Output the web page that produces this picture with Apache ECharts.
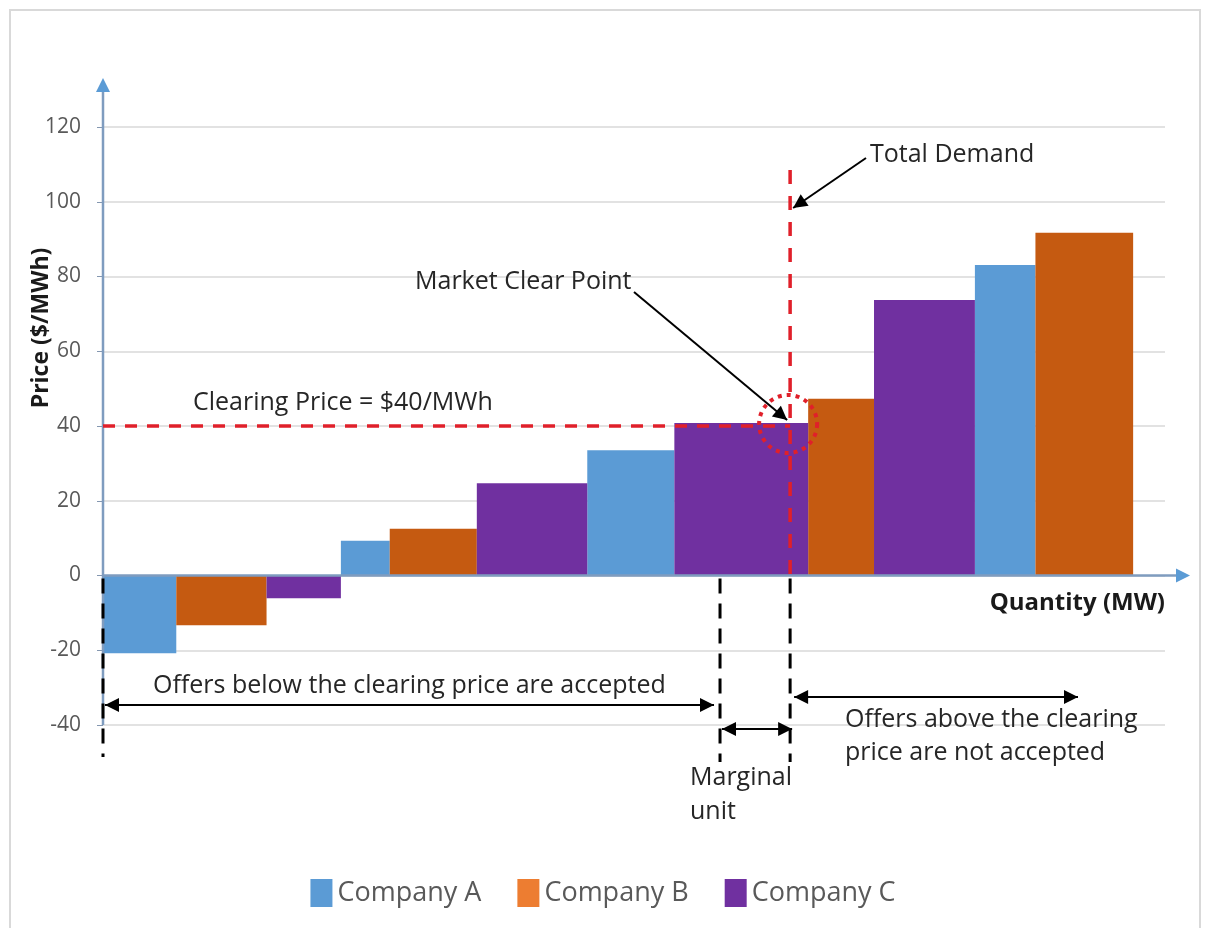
<!DOCTYPE html>
<html>
<head>
<meta charset="utf-8">
<title>Market clearing price</title>
<script src="https://cdn.jsdelivr.net/npm/echarts@6/dist/echarts.min.js"></script>
<style>
  html, body { margin: 0; padding: 0; background: #fff; }
  #chart { width: 1206px; height: 928px; }
</style>
</head>
<body>
<div id="chart"></div>
<script>
// companies and their colours (bars use a darker orange than the legend swatch)
var companies = ['Company A', 'Company B', 'Company C']
var barColors = ['#5b9bd5', '#c55a11', '#7030a0']
var legendColors = ['#5b9bd5', '#ed7d31', '#7030a0']

// offers sorted by price (merit order)
var offerCompany = ['Company A', 'Company B', 'Company C', 'Company A', 'Company B', 'Company C',
  'Company A', 'Company C', 'Company B', 'Company C', 'Company A', 'Company B']
var offerQuantity = [6.9, 8.5, 7.0, 4.6, 8.2, 10.4, 8.2, 12.6, 6.2, 9.5, 5.7, 9.2] // MW
var offerPrice = [-20.8, -13.3, -6.1, 9.3, 12.5, 24.7, 33.5, 40.8, 47.3, 73.7, 83.1, 91.7] // $/MWh

var yTicks = [-40, -20, 0, 20, 40, 60, 80, 100, 120]
var clearingPrice = 40
var totalDemand = 64.7
var marginalStart = 58.1

var FONT = 'Open Sans'
var NOTE = 25

// cumulative start/end of each offer on the quantity axis
var offers = []
var acc = 0
for (var i = 0; i < offerQuantity.length; i++) {
  offers.push({ company: offerCompany[i], start: acc, end: acc + offerQuantity[i], price: offerPrice[i] })
  acc += offerQuantity[i]
}

function renderBar(params, api) {
  var p0 = api.coord([api.value(0), 0])
  var p1 = api.coord([api.value(1), api.value(2)])
  return {
    type: 'rect',
    shape: {
      x: p0[0],
      y: Math.min(p0[1], p1[1]),
      width: p1[0] - p0[0],
      height: Math.abs(p1[1] - p0[1])
    },
    style: { fill: api.visual('color') }
  }
}

var series = companies.map(function(name, idx) {
  return {
    name: name,
    type: 'custom',
    renderItem: renderBar,
    encode: { x: [0, 1], y: 2 },
    itemStyle: { color: barColors[idx] },
    data: offers.filter(function(o) { return o.company === name })
      .map(function(o) { return [o.start, o.end, o.price] })
  }
})

var chart = echarts.init(document.getElementById('chart'))

chart.setOption({
  animation: false,
  backgroundColor: '#fff',
  grid: { left: 103, right: 41, top: 127, bottom: 203, containLabel: false },
  legend: {
    data: companies.map(function(c, i) { return { name: c, itemStyle: { color: legendColors[i] } } }),
    left: 'center',
    top: 874,
    icon: 'rect',
    itemWidth: 22,
    itemHeight: 28,
    itemGap: 36,
    textStyle: { fontFamily: FONT, fontSize: 27, color: '#595959' }
  },
  xAxis: {
    type: 'value',
    min: 0,
    max: 100,
    axisLine: { show: false },
    axisTick: { show: false },
    axisLabel: { show: false },
    splitLine: { show: false }
  },
  yAxis: {
    type: 'value',
    min: yTicks[0],
    max: yTicks[yTicks.length - 1],
    interval: yTicks[1] - yTicks[0],
    axisLine: { show: false },
    axisTick: { show: true, length: 6, lineStyle: { color: '#8497b0' } },
    axisLabel: { fontFamily: FONT, fontSize: 21, color: '#595959', margin: 22 },
    splitLine: { lineStyle: { color: '#d9d9d9', width: 1.5 } }
  },
  series: series
})

function px(x, y) { return chart.convertToPixel({ gridIndex: 0 }, [x, y]) }

function head(tx, ty, fx, fy, color) {
  var a = Math.atan2(ty - fy, tx - fx)
  var L = 14, W = 7
  var bx = tx - L * Math.cos(a), by = ty - L * Math.sin(a)
  return {
    type: 'polygon',
    shape: { points: [[tx, ty], [bx - W * Math.sin(a), by + W * Math.cos(a)], [bx + W * Math.sin(a), by - W * Math.cos(a)]] },
    style: { fill: color || '#000' },
    z: 110
  }
}

function arrow(x1, y1, x2, y2, both) {
  var els = [{
    type: 'line',
    shape: { x1: x1, y1: y1, x2: x2, y2: y2 },
    style: { stroke: '#000', lineWidth: 2 },
    z: 110
  }]
  els.push(head(x2, y2, x1, y1))
  if (both) els.push(head(x1, y1, x2, y2))
  return els
}

function label(text, x, y, opts) {
  opts = opts || {}
  return {
    type: 'text',
    rotation: opts.rotation || 0,
    x: x,
    y: y,
    style: {
      text: text,
      fill: opts.color || '#262626',
      fontFamily: FONT,
      fontSize: opts.size || NOTE,
      fontWeight: opts.bold ? 'bold' : 'normal',
      align: opts.align || 'left',
      verticalAlign: 'middle'
    },
    z: 120
  }
}

function dashed(x1, y1, x2, y2, color, width, dash) {
  return {
    type: 'line',
    shape: { x1: x1, y1: y1, x2: x2, y2: y2 },
    style: { stroke: color, lineWidth: width, lineDash: dash },
    z: 105
  }
}

var origin = px(0, 0)
var yBottom = px(0, yTicks[0])
var yTop = px(0, yTicks[yTicks.length - 1])
var xEnd = px(100, 0)
var clear = px(totalDemand, clearingPrice)
var marg = px(marginalStart, 0)
var demandTop = px(totalDemand, 108.5)
var dashBottom = yBottom[1] + 32
var axisColor = '#7f9cbf'
var arrowBlue = '#5b9bd5'

var g = []
// chart border
g.push({ type: 'rect', shape: { x: 10, y: 10, width: 1190, height: 940 }, style: { fill: 'none', stroke: '#d9d9d9', lineWidth: 2 }, z: 1 })

// axes with arrow heads
g.push({ type: 'line', shape: { x1: origin[0], y1: yBottom[1], x2: origin[0], y2: yTop[1] - 40 }, style: { stroke: axisColor, lineWidth: 2.5 }, z: 100 })
g.push(head(origin[0], yTop[1] - 49, origin[0], yTop[1], arrowBlue))
g.push({ type: 'line', shape: { x1: origin[0], y1: origin[1], x2: xEnd[0] + 16, y2: origin[1] }, style: { stroke: axisColor, lineWidth: 2.5 }, z: 100 })
g.push(head(xEnd[0] + 25, origin[1], xEnd[0], origin[1], arrowBlue))

// axis titles
g.push(label('Price ($/MWh)', 41, 328, { bold: true, rotation: Math.PI / 2, align: 'center', size: 23, color: '#1a1a1a' }))
g.push(label('Quantity (MW)', xEnd[0], origin[1] + 28, { bold: true, align: 'right', size: 24, color: '#1a1a1a' }))

// clearing price and total demand (red)
g.push(dashed(origin[0], clear[1], clear[0], clear[1], '#e0202a', 3.5, [12, 10]))
g.push(dashed(clear[0], demandTop[1], clear[0], origin[1], '#e0202a', 3.5, [14, 12]))
g.push({ type: 'circle', shape: { cx: clear[0] - 2, cy: clear[1] - 2, r: 29 }, style: { fill: 'none', stroke: '#e0202a', lineWidth: 4, lineDash: [4, 5] }, z: 106 })

// black dashed boundaries
g.push(dashed(origin[0], origin[1] + 3, origin[0], dashBottom, '#000', 3, [15, 10]))
g.push(dashed(marg[0], origin[1] + 3, marg[0], dashBottom + 5, '#000', 3, [15, 10]))
g.push(dashed(clear[0], origin[1] + 3, clear[0], dashBottom + 5, '#000', 3, [15, 10]))

// annotations
g.push(label('Total Demand', 870, 155))
g = g.concat(arrow(866, 158, clear[0] + 3, demandTop[1] + 38))
g.push(label('Market Clear Point', 415, 282))
g = g.concat(arrow(634, 292, clear[0] - 3, clear[1] - 6))
g.push(label('Clearing Price = $40/MWh', 193, 403))

g.push(label('Offers below the clearing price are accepted', 153, 686))
g = g.concat(arrow(origin[0] + 2, 705, marg[0] - 6, 705, true))
g = g.concat(arrow(marg[0] + 2, 729, clear[0] + 2, 729, true))
g.push(label('Marginal', 690, 778))
g.push(label('unit', 690, 812))
g = g.concat(arrow(clear[0] + 4, 697, 1078, 697, true))
g.push(label('Offers above the clearing', 845, 720))
g.push(label('price are not accepted', 845, 753))

chart.setOption({ graphic: g })
</script>
</body>
</html>
